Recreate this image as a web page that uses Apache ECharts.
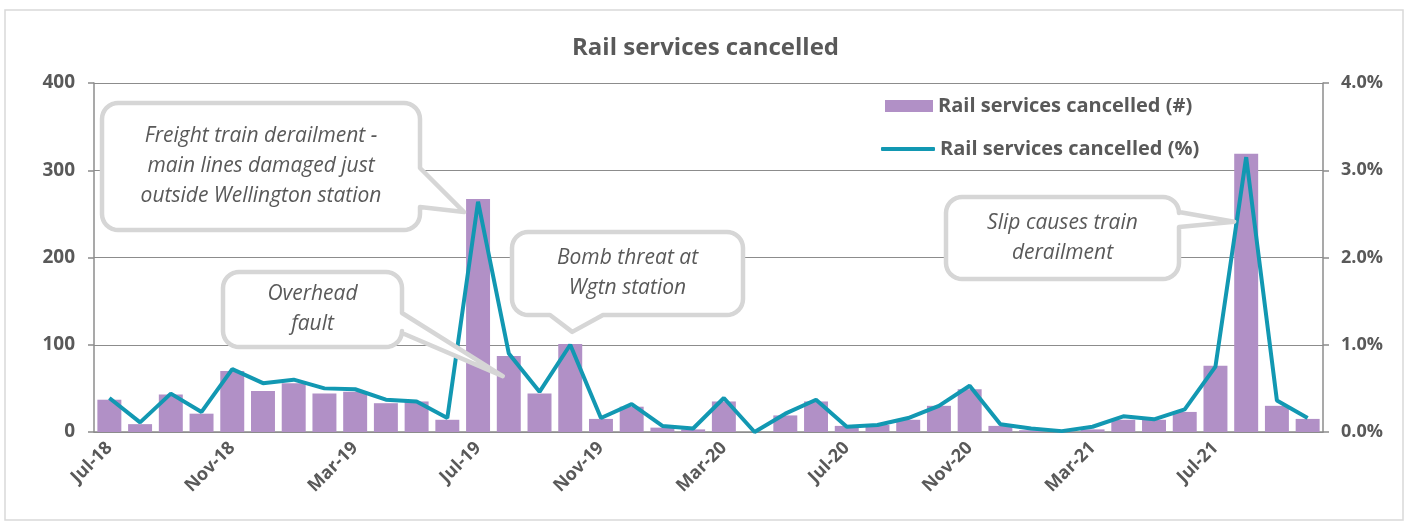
<!DOCTYPE html>
<html>
<head>
<meta charset="utf-8">
<script src="https://cdn.jsdelivr.net/npm/echarts@6/dist/echarts.min.js"></script>
<style>
html,body{margin:0;padding:0;background:#fff;}
#c{width:1411px;height:523px;}
</style>
</head>
<body>
<div id="c"></div>
<script>
const months = ['Jul-18','Aug-18','Sep-18','Oct-18','Nov-18','Dec-18','Jan-19','Feb-19','Mar-19','Apr-19','May-19','Jun-19',
  'Jul-19','Aug-19','Sep-19','Oct-19','Nov-19','Dec-19','Jan-20','Feb-20','Mar-20','Apr-20','May-20','Jun-20',
  'Jul-20','Aug-20','Sep-20','Oct-20','Nov-20','Dec-20','Jan-21','Feb-21','Mar-21','Apr-21','May-21','Jun-21',
  'Jul-21','Aug-21','Sep-21','Oct-21'];
const cancelledCount = [37,9,43,21,70,47,56,44,46,33,35,14,
  267,87,44,101,15,29,5,3,35,0,19,35,
  7,8,14,30,49,7,2,1,3,14,14,23,
  76,319,30,15];
const cancelledPct = [0.39,0.11,0.44,0.23,0.72,0.56,0.60,0.50,0.49,0.37,0.35,0.16,
  2.64,0.90,0.46,1.00,0.16,0.32,0.07,0.04,0.39,0.00,0.21,0.37,
  0.06,0.08,0.16,0.30,0.53,0.09,0.04,0.01,0.06,0.18,0.145,0.26,
  0.75,3.15,0.36,0.16];
const countTicks = [0,100,200,300,400];
const pctTicks = [0,1,2,3,4];
const annotations = [
  {text:'Freight train derailment -\nmain lines damaged just\noutside Wellington station', idx:12},
  {text:'Overhead\nfault', idx:13},
  {text:'Bomb threat at\nWgtn station', idx:15},
  {text:'Slip causes train\nderailment', idx:37}
];

const FONT = '"Open Sans", "Liberation Sans", sans-serif';
const GREY = '#595959';
const AXIS = '#8c8c8c';
const S1 = 'Rail services cancelled (#)', S2 = 'Rail services cancelled (%)';

const chart = echarts.init(document.getElementById('c'), null, {renderer:'canvas'});
const legendText = {fontFamily:FONT, fontSize:20, fontWeight:'bold', color:GREY};
const option = {
  backgroundColor:'#fff',
  animation:false,
  title:{text:'Rail services cancelled', left:'center', top:31,
    textStyle:{fontFamily:FONT, fontSize:24, fontWeight:'bold', color:GREY}},
  legend:[
    {left:885, top:96, padding:0, itemWidth:48, itemHeight:12, icon:'rect', textStyle:legendText, data:[S1]},
    {left:881, top:139, padding:0, itemWidth:54, itemHeight:4, icon:'roundRect', textStyle:legendText, data:[S2]}
  ],
  grid:{left:94, right:88, top:83, bottom:91},
  xAxis:{type:'category', data:months, boundaryGap:true,
    axisLine:{lineStyle:{color:AXIS, width:1.5}},
    axisTick:{interval:3, length:6, lineStyle:{color:AXIS, width:1.5}},
    axisLabel:{interval:3, rotate:45, margin:13, fontFamily:FONT, fontSize:18, fontWeight:'bold', color:GREY}},
  yAxis:[
    {type:'value', min:countTicks[0], max:countTicks[countTicks.length-1], interval:100,
      axisLine:{show:true, lineStyle:{color:AXIS, width:1.5}},
      axisTick:{show:true, length:6, lineStyle:{color:AXIS, width:1.5}},
      splitLine:{lineStyle:{color:AXIS, width:1.2}},
      axisLabel:{margin:19, fontFamily:FONT, fontSize:19, fontWeight:'bold', color:GREY}},
    {type:'value', min:pctTicks[0], max:pctTicks[pctTicks.length-1], interval:1, position:'right',
      axisLine:{show:true, lineStyle:{color:AXIS, width:1.5}},
      axisTick:{show:true, length:6, lineStyle:{color:AXIS, width:1.5}},
      splitLine:{show:false},
      axisLabel:{margin:18, fontFamily:FONT, fontSize:18, fontWeight:'bold', color:GREY,
        formatter:v=>v.toFixed(1)+'%'}}
  ],
  series:[
    {name:S1, type:'bar', data:cancelledCount, barCategoryGap:'22%',
      itemStyle:{color:'#b190c6'}},
    {name:S2, type:'line', yAxisIndex:1, data:cancelledPct,
      symbol:'none', showSymbol:false, lineStyle:{color:'#1298b2', width:4}, itemStyle:{color:'#1298b2'}}
  ]
};
chart.setOption(option);

function px(i, v){ return chart.convertToPixel({xAxisIndex:0, yAxisIndex:0}, [i, v]); }
function arc(pts, cx, cy, r, a0, a1){
  const n = 8;
  for(let k=0;k<=n;k++){ const a = a0 + (a1-a0)*k/n; pts.push([cx + r*Math.cos(a), cy + r*Math.sin(a)]); }
}
function calloutPoints(b, side, a1, a2, tip){
  const [x0,y0,x1,y1] = b, r = 16, P = Math.PI;
  const pts = [];
  arc(pts, x0+r, y0+r, r, P, 1.5*P);
  arc(pts, x1-r, y0+r, r, 1.5*P, 2*P);
  if(side==='right'){ pts.push([x1,a1]); pts.push(tip); pts.push([x1,a2]); }
  arc(pts, x1-r, y1-r, r, 0, 0.5*P);
  if(side==='bottom'){ pts.push([a2,y1]); pts.push(tip); pts.push([a1,y1]); }
  arc(pts, x0+r, y1-r, r, 0.5*P, P);
  return pts;
}
const boxes = [
  {b:[102,103,420,230], side:'right', a1:168, a2:207, tipOff:[-14, 13]},
  {b:[223,272,402,347], side:'right', a1:313, a2:333, tipOff:[-6, 20]},
  {b:[512,232,743,315], side:'bottom', a1:550, a2:603, tipOff:[2, -12]},
  {b:[946,197,1179,279], side:'right', a1:212, a2:227, tipOff:[-12, 68]}
];
const graphics = [{type:'rect', shape:{x:5, y:10, width:1398, height:510}, style:{fill:'none', stroke:'#d9d9d9', lineWidth:1.5}, z:-1}];
annotations.forEach((a, k)=>{
  const bx = boxes[k];
  const p = px(a.idx, cancelledCount[a.idx]);
  const tip = [p[0]+bx.tipOff[0], p[1]+bx.tipOff[1]];
  graphics.push({type:'polygon', shape:{points:calloutPoints(bx.b, bx.side, bx.a1, bx.a2, tip)},
    style:{fill:'#fff', stroke:'#d6d6d6', lineWidth:4.5, lineJoin:'round'}, z:100});
  graphics.push({type:'text', x:(bx.b[0]+bx.b[2])/2, y:(bx.b[1]+bx.b[3])/2, z:101,
    style:{text:a.text, font:'italic 21px '+FONT, fill:GREY, align:'center', verticalAlign:'middle', lineHeight:30}});
});
chart.setOption({graphic:graphics});
</script>
</body>
</html>
